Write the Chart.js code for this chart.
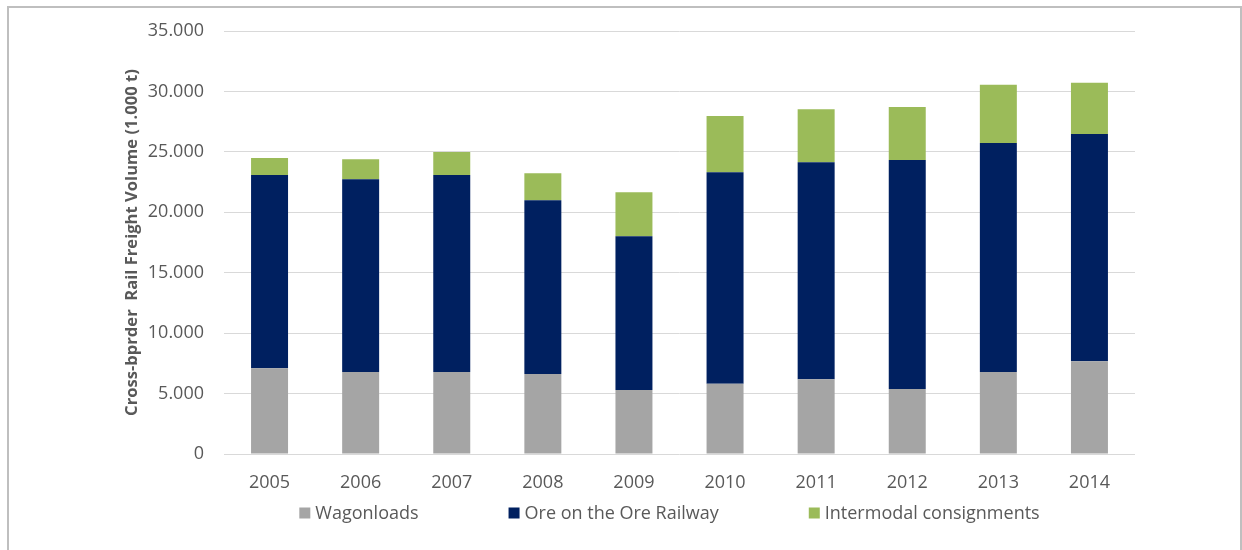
<!DOCTYPE html>
<html>
<head>
<meta charset="utf-8">
<script src="https://cdn.jsdelivr.net/npm/chart.js@4.4.0/dist/chart.umd.min.js"></script>
<style>
  html, body { margin: 0; padding: 0; background: #ffffff; }
  #wrap { position: relative; width: 1242px; height: 550px; }
</style>
</head>
<body>
<div id="wrap"><canvas id="chart" width="1242" height="550"></canvas></div>
<script>
// Cross-border rail freight volume, thousand tonnes per year
const years = ['2005', '2006', '2007', '2008', '2009', '2010', '2011', '2012', '2013', '2014'];
const wagonloads = [7090, 6780, 6780, 6620, 5300, 5820, 6180, 5380, 6780, 7670];
const oreRailway = [15990, 15950, 16300, 14370, 12710, 17490, 17950, 18950, 18950, 18810];
const intermodal = [1410, 1650, 1910, 2230, 3640, 4660, 4390, 4380, 4830, 4240];
const yTicks = [0, 5000, 10000, 15000, 20000, 25000, 30000, 35000];

const seriesNames = ['Wagonloads', 'Ore on the Ore Railway', 'Intermodal consignments'];
const seriesColors = ['#a5a5a5', '#002060', '#9bbb59'];
const textColor = '#595959';
const fontFamily = '"Open Sans", "Noto Sans", sans-serif';

// 35000 -> "35.000"
function dotThousands(v) {
  return String(Math.round(v)).replace(/\B(?=(\d{3})+(?!\d))/g, '.');
}

// Outer frame of the figure
const framePlugin = {
  id: 'frame',
  beforeDraw(chart) {
    const ctx = chart.ctx;
    ctx.save();
    ctx.fillStyle = '#ffffff';
    ctx.fillRect(0, 0, chart.width, chart.height);
    ctx.strokeStyle = '#bfbfbf';
    ctx.lineWidth = 2;
    ctx.strokeRect(8, 7, 1233, 600);
    ctx.restore();
  }
};

// Single-row legend below the axis, items separated by a wide gap
const bottomLegend = {
  id: 'bottomLegend',
  afterDraw(chart) {
    const ctx = chart.ctx;
    const box = 11, gapText = 5, gapItem = 90, cy = 513;
    ctx.save();
    ctx.font = '18px ' + fontFamily;
    ctx.textBaseline = 'middle';
    ctx.textAlign = 'left';
    const items = chart.data.datasets.map(ds => ({
      label: ds.label,
      color: ds.backgroundColor,
      w: box + gapText + ctx.measureText(ds.label).width
    }));
    const total = items.reduce((s, it) => s + it.w, 0) + gapItem * (items.length - 1);
    let x = 669.5 - total / 2;
    items.forEach(it => {
      ctx.fillStyle = it.color;
      ctx.fillRect(x, cy - box / 2, box, box);
      ctx.fillStyle = textColor;
      ctx.fillText(it.label, x + box + gapText, cy + 1);
      x += it.w + gapItem;
    });
    ctx.restore();
  }
};

new Chart(document.getElementById('chart'), {
  type: 'bar',
  data: {
    labels: years,
    datasets: [
      { label: seriesNames[0], data: wagonloads, backgroundColor: seriesColors[0] },
      { label: seriesNames[1], data: oreRailway, backgroundColor: seriesColors[1] },
      { label: seriesNames[2], data: intermodal, backgroundColor: seriesColors[2] }
    ]
  },
  options: {
    responsive: false,
    animation: false,
    devicePixelRatio: 1,
    layout: { padding: { left: 118, right: 107, top: 31, bottom: 56 } },
    datasets: { bar: { categoryPercentage: 1, barPercentage: 0.406, borderWidth: 0 } },
    plugins: {
      legend: { display: false },
      tooltip: { enabled: false },
      title: { display: false }
    },
    scales: {
      x: {
        stacked: true,
        grid: { display: false },
        border: { display: false },
        ticks: {
          color: textColor,
          font: { family: fontFamily, size: 18 },
          padding: 10,
          maxRotation: 0
        },
        afterFit(scale) { scale.height = 40; }
      },
      y: {
        stacked: true,
        min: 0,
        max: 35000,
        afterBuildTicks(scale) { scale.ticks = yTicks.map(v => ({ value: v })); },
        grid: { color: '#d9d9d9', lineWidth: 1, drawTicks: false },
        border: { display: false },
        ticks: {
          color: textColor,
          font: { family: fontFamily, size: 18 },
          padding: 20,
          callback: v => dotThousands(v)
        },
        title: {
          display: true,
          text: 'Cross-bprder  Rail Freight Volume (1.000 t)',
          color: textColor,
          font: { family: fontFamily, size: 16.6, weight: 'bold' },
          padding: { top: 4, bottom: 4 }
        },
        afterFit(scale) { scale.width = 106; }
      }
    }
  },
  plugins: [framePlugin, bottomLegend]
});
</script>
</body>
</html>
